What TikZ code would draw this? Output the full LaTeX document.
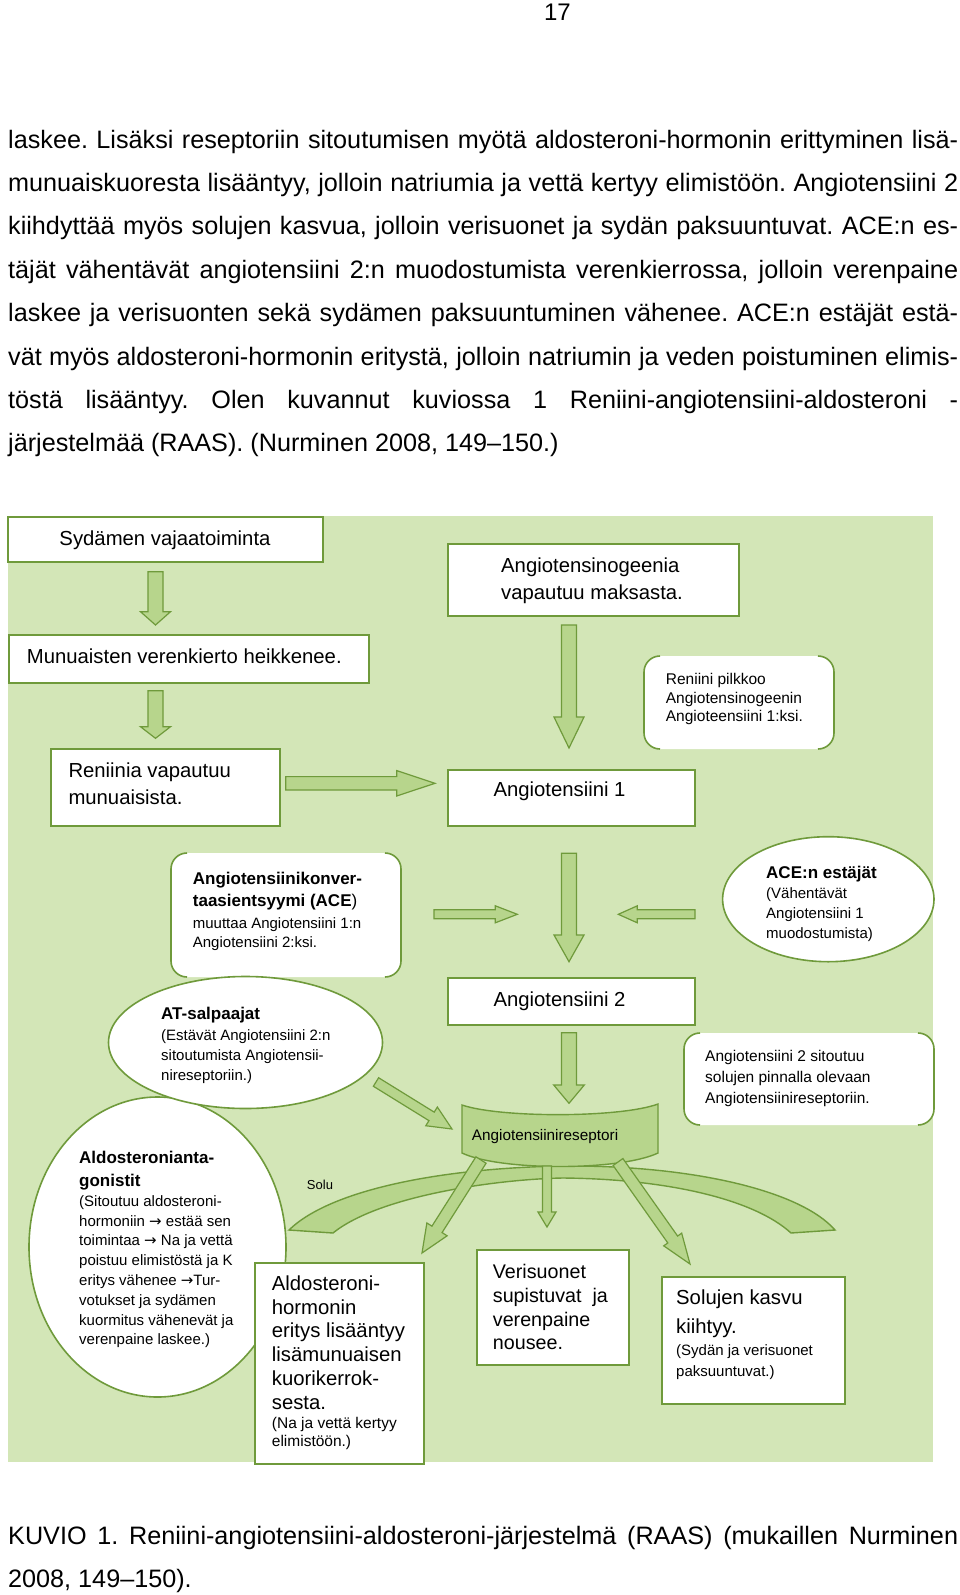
\documentclass[tikz,border=0pt]{standalone}
\usepackage{fontspec}
\setmainfont{Liberation Sans}
\newfontfamily\arrowfont{DejaVu Sans}
\usetikzlibrary{calc,shapes.geometric}
\definecolor{bggreen}{HTML}{D3E6B7}
\definecolor{edgegreen}{HTML}{6F9A3B}
\definecolor{arrowfill}{HTML}{B7D58C}
\newcommand\mylines[1]{\vtop{\halign{##\hfil\cr#1\crcr}}}
\newcommand\setfs[2]{\fontsize{#1pt}{#2pt}\selectfont}
\newcommand\rarr{{\arrowfont →}}
\newcommand\blockarrow[5]{%
  \coordinate (ba-h) at ($(#2)!#5pt!(#1)$);
  \draw[blockarr] ($(#1)!#3pt!90:(#2)$) -- ($(ba-h)!#3pt!-90:(#1)$) -- ($(ba-h)!#4pt!-90:(#1)$) -- (#2) -- ($(ba-h)!#4pt!90:(#1)$) -- ($(ba-h)!#3pt!90:(#1)$) -- ($(#1)!#3pt!-90:(#2)$) -- cycle;
}
\newcommand\bracketbox[5]{%
  \fill[white, rounded corners=16pt] (#2,#3) rectangle (#4,#5);
  \draw[bracketline, rounded corners=16pt] ($(#2,#3)+(16,0)$) -- (#2,#3) -- (#2,#5) -- ($(#2,#5)+(16,0)$);
  \draw[bracketline, rounded corners=16pt] ($(#4,#3)+(-16,0)$) -- (#4,#3) -- (#4,#5) -- ($(#4,#5)+(-16,0)$);
  \coordinate (#1) at ($(#2,#3)!0.5!(#4,#5)$);
}
\tikzset{
  whitebox/.style={draw=edgegreen, fill=white, line width=1.6pt, inner sep=0pt, anchor=north west},
  bracketline/.style={draw=edgegreen, line width=1.6pt},
  ellsty/.style={ellipse, draw=edgegreen, fill=white, line width=1.6pt, inner sep=0pt},
  blockarr/.style={fill=arrowfill, draw=edgegreen, line width=1.2pt, line join=miter},
  recsty/.style={fill=arrowfill, draw=edgegreen, line width=1.4pt},
  bandsty/.style={fill=arrowfill, draw=edgegreen, line width=1.4pt},
  dtext/.style={inner sep=0pt, anchor=base west},
  bodytext/.style={inner sep=0pt, anchor=base west, font=\setfs{25.2}{30}\frenchspacing},
}
\frenchspacing
\begin{document}
\begin{tikzpicture}[x=1pt, y=-1pt]
\useasboundingbox (0,0) rectangle (960,1595);
\fill[white] (0,0) rectangle (960,1595);

% page number and body text
\node[inner sep=0pt, anchor=base, font=\setfs{24}{28}] (pnum) at (557.4,20.8) {17};
\node[bodytext] (b1) at (8,148) {\makebox[950pt][s]{laskee. Lisäksi reseptoriin sitoutumisen myötä aldosteroni-hormonin erittyminen lisä-}};
\node[bodytext] (b2) at (8,191.4) {\makebox[950pt][s]{munuaiskuoresta lisääntyy, jolloin natriumia ja vettä kertyy elimistöön. Angiotensiini 2}};
\node[bodytext] (b3) at (8,234.8) {\makebox[950pt][s]{kiihdyttää myös solujen kasvua, jolloin verisuonet ja sydän paksuuntuvat. ACE:n es-}};
\node[bodytext] (b4) at (8,278.2) {\makebox[950pt][s]{täjät vähentävät angiotensiini 2:n muodostumista verenkierrossa, jolloin verenpaine}};
\node[bodytext] (b5) at (8,321.6) {\makebox[950pt][s]{laskee ja verisuonten sekä sydämen paksuuntuminen vähenee. ACE:n estäjät estä-}};
\node[bodytext] (b6) at (8,365) {\makebox[950pt][s]{vät myös aldosteroni-hormonin eritystä, jolloin natriumin ja veden poistuminen elimis-}};
\node[bodytext] (b7) at (8,408.4) {\makebox[950pt][s]{töstä lisääntyy. Olen kuvannut kuviossa 1 Reniini-angiotensiini-aldosteroni -}};
\node[bodytext] (b8) at (8,451.8) {järjestelmää (RAAS). (Nurminen 2008, 149–150.)};

% green background
\fill[bggreen] (8,516) rectangle (933,1462);

% boxes
\node[whitebox, minimum width=315pt, minimum height=45pt] (syd) at (7,516) {};
\node[whitebox, minimum width=291pt, minimum height=72pt] (ango) at (447,543) {};
\node[whitebox, minimum width=360pt, minimum height=48pt] (mun) at (8,634) {};
\bracketbox{ren}{644}{656}{834}{749}
\node[whitebox, minimum width=229pt, minimum height=77pt] (reni) at (50,748) {};
\node[whitebox, minimum width=247pt, minimum height=56pt] (ang1) at (447,769) {};
\bracketbox{ace}{171}{853}{401}{977}
\node[ellsty, minimum width=211.4pt, minimum height=125pt] (acei) at (828.3,899.2) {};
\node[whitebox, minimum width=247pt, minimum height=47pt] (ang2) at (447,977) {};
\bracketbox{sit}{684}{1033}{934}{1125}
\node[ellsty, minimum width=257pt, minimum height=300pt] (ald) at (157.5,1247) {};
\node[ellsty, minimum width=274pt, minimum height=132pt] (at) at (245.5,1042.5) {};
\node[whitebox, minimum width=169pt, minimum height=201pt] (aldb) at (254,1262) {};
\node[whitebox, minimum width=152pt, minimum height=115pt] (veri) at (476,1249) {};
\node[whitebox, minimum width=183pt, minimum height=127pt] (sol) at (661,1276) {};

% cell band
\draw[bandsty] (289,1230) .. controls (330,1190) and (440,1168) .. (563,1166)
  .. controls (690,1165) and (800,1190) .. (835,1230) -- (791,1233)
  .. controls (755,1200) and (670,1179) .. (563,1178)
  .. controls (500,1179) and (380,1195) .. (333,1233) -- cycle;
% receptor
\draw[recsty] (462,1105) .. controls (500,1118) and (620,1118) .. (658,1104) -- (658,1153)
  .. controls (620,1171) and (500,1171) .. (462,1153) -- cycle;

% arrow end points
\coordinate (a1s) at (155.5,571.7);  \coordinate (a1e) at (155.5,625);
\coordinate (a2s) at (155.5,690.7);  \coordinate (a2e) at (155.5,738.3);
\coordinate (a3s) at (285.7,783.3);  \coordinate (a3e) at (435,783.3);
\coordinate (a4s) at (569,625);      \coordinate (a4e) at (569,748);
\coordinate (a5s) at (434,914.3);    \coordinate (a5e) at (517.3,914.3);
\coordinate (a6s) at (569,853.3);    \coordinate (a6e) at (569,961.7);
\coordinate (a7s) at (695,914.3);    \coordinate (a7e) at (618.3,914.3);
\coordinate (a8s) at (569,1032.7);   \coordinate (a8e) at (569,1103.3);
\coordinate (a9s) at (376,1082);     \coordinate (a9e) at (452,1129);
\coordinate (a10s) at (481,1160);    \coordinate (a10e) at (422,1253);
\coordinate (a11s) at (547,1166);    \coordinate (a11e) at (547,1227);
\coordinate (a12s) at (618,1162);    \coordinate (a12e) at (690,1264);

\blockarrow{a1s}{a1e}{7.5}{15}{13.3}
\blockarrow{a2s}{a2e}{7.5}{15}{11.6}
\blockarrow{a3s}{a3e}{6.7}{12.7}{38.3}
\blockarrow{a4s}{a4e}{7.5}{15}{31}
\blockarrow{a5s}{a5e}{4.5}{8.5}{22}
\blockarrow{a6s}{a6e}{7.5}{15}{26.7}
\blockarrow{a7s}{a7e}{4.5}{8.5}{19}
\blockarrow{a8s}{a8e}{7.5}{15.3}{18.3}
\blockarrow{a9s}{a9e}{5}{11}{24}
\blockarrow{a10s}{a10e}{6}{12}{28}
\blockarrow{a11s}{a11e}{4.5}{9}{15}
\blockarrow{a12s}{a12e}{6}{11}{30}

% texts
\node[inner sep=0pt, anchor=base, font=\setfs{20.3}{26}] (sydT) at (165,545) {Sydämen vajaatoiminta};
\node[dtext, font=\setfs{20.3}{27}] (angoT) at (501,572.5) {\mylines{Angiotensinogeenia\cr vapautuu maksasta.}};
\node[dtext, font=\setfs{20.3}{26}] (munT) at (26.7,663) {Munuaisten verenkierto heikkenee.};
\node[dtext, font=\setfs{15.5}{18.5}] (renT) at (665.7,684.5) {\mylines{Reniini pilkkoo\cr Angiotensinogeenin\cr Angioteensiini 1:ksi.}};
\node[dtext, font=\setfs{20.3}{27}] (reniT) at (68.3,777.5) {\mylines{Reniinia vapautuu\cr munuaisista.}};
\node[dtext, font=\setfs{20.3}{26}] (ang1T) at (493.3,796.3) {Angiotensiini 1};
\node[dtext, font=\setfs{17}{21.5}\bfseries] (aceT1) at (192.7,884.5) {\mylines{Angiotensiinikonver-\cr taasientsyymi (ACE{\mdseries)}}};
\node[dtext, font=\setfs{15}{19.5}] (aceT2) at (192.7,928) {\mylines{muuttaa Angiotensiini 1:n\cr Angiotensiini 2:ksi.}};
\node[dtext, font=\setfs{17}{20}\bfseries] (aceiT1) at (766,878) {ACE:n estäjät};
\node[dtext, font=\setfs{15}{20}] (aceiT2) at (766,898) {\mylines{(Vähentävät\cr Angiotensiini 1\cr muodostumista)}};
\node[dtext, font=\setfs{17}{20}\bfseries] (atT1) at (161,1019) {AT-salpaajat};
\node[dtext, font=\setfs{15}{20}] (atT2) at (161,1040) {\mylines{(Estävät Angiotensiini 2:n\cr sitoutumista Angiotensii-\cr nireseptoriin.)}};
\node[dtext, font=\setfs{20.3}{26}] (ang2T) at (493.3,1006) {Angiotensiini 2};
\node[dtext, font=\setfs{15.5}{21}] (sitT) at (705,1061.5) {\mylines{Angiotensiini 2 sitoutuu\cr solujen pinnalla olevaan\cr Angiotensiinireseptoriin.}};
\node[dtext, font=\setfs{15.3}{18}] (recT) at (471.7,1140.5) {Angiotensiinireseptori};
\node[inner sep=0pt, font=\setfs{13}{16}] (soluT) at (320,1185) {Solu};
\node[dtext, font=\setfs{17}{22.5}\bfseries] (aldT1) at (79,1163.5) {\mylines{Aldosteronianta-\cr gonistit}};
\node[dtext, font=\setfs{15}{19.8}] (aldT2) at (79,1206.2) {\mylines{(Sitoutuu aldosteroni-\cr hormoniin \rarr{} estää sen\cr toimintaa \rarr{} Na ja vettä\cr poistuu elimistöstä ja K\cr eritys vähenee \rarr{}Tur-\cr votukset ja sydämen\cr kuormitus vähenevät ja\cr verenpaine laskee.)}};
\node[dtext, font=\setfs{20.3}{23.7}] (aldbT1) at (271.7,1290.5) {\mylines{Aldosteroni-\cr hormonin\cr eritys lisääntyy\cr lisämunuaisen\cr kuorikerrok-\cr sesta.}};
\node[dtext, font=\setfs{15.5}{18.5}] (aldbT2) at (271.7,1428) {\mylines{(Na ja vettä kertyy\cr elimistöön.)}};
\node[dtext, font=\setfs{19.7}{23.7}] (veriT) at (492.7,1278.7) {\mylines{Verisuonet\cr supistuvat\ \ ja\cr verenpaine\cr nousee.}};
\node[dtext, font=\setfs{20.3}{28.7}] (solT1) at (676,1304.3) {\mylines{Solujen kasvu\cr kiihtyy.}};
\node[dtext, font=\setfs{15}{21.5}] (solT2) at (676,1355) {\mylines{(Sydän ja verisuonet\cr paksuuntuvat.)}};

% caption
\node[bodytext] (c1) at (8,1544) {\makebox[950pt][s]{KUVIO 1. Reniini-angiotensiini-aldosteroni-järjestelmä (RAAS) (mukaillen Nurminen}};
\node[bodytext] (c2) at (8,1587) {2008, 149–150).};
\end{tikzpicture}
\end{document}
